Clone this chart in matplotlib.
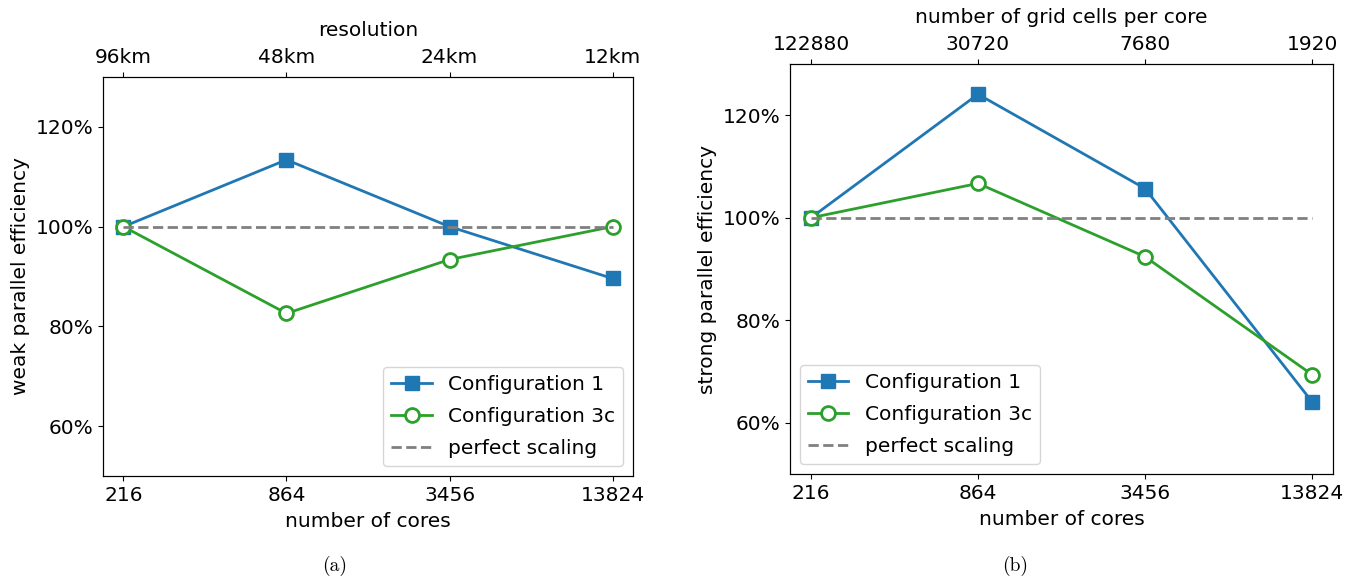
import matplotlib
matplotlib.use("Agg")
from matplotlib import pyplot as plt
from matplotlib.ticker import FuncFormatter, NullLocator

cores = [216, 864, 3456, 13824]
resolution = ["96km", "48km", "24km", "12km"]
cells_per_core = ["122880", "30720", "7680", "1920"]

weak_conf1 = [100.0, 113.4, 100.0, 89.6]
weak_conf3c = [100.0, 82.6, 93.4, 100.0]
strong_conf1 = [100.0, 124.1, 105.7, 64.1]
strong_conf3c = [100.0, 106.7, 92.4, 69.4]
perfect = [100.0, 100.0, 100.0, 100.0]

plt.rcParams['font.size'] = 14.5

fig = plt.figure(figsize=(13.58, 5.85), dpi=100)
ax1 = fig.add_axes([103/1358, 1-476/585, 530/1358, 399/585])
ax2 = fig.add_axes([790/1358, 1-474/585, 543/1358, 410/585])

def draw(ax, c1, c3, ylabel, toplabels, toptitle):
    ax.plot(cores, c1, marker='s', color='#1f77b4', lw=2, ms=10, label='Configuration 1')
    ax.plot(cores, c3, marker='o', color='#2ca02c', lw=2, ms=10, mfc='white', mew=2,
            label='Configuration 3c')
    ax.plot(cores, perfect, ls='--', color='gray', lw=2, label='perfect scaling')
    ax.set_xscale('log')
    ax.set_xlim(216 / 1.19, 13824 * 1.19)
    ax.set_ylim(50, 130)
    ax.set_xticks(cores)
    ax.set_xticklabels([str(c) for c in cores])
    ax.xaxis.set_minor_locator(NullLocator())
    ax.set_yticks([60, 80, 100, 120])
    ax.yaxis.set_major_formatter(FuncFormatter(lambda v, p: f"{v:.0f}%"))
    ax.set_xlabel('number of cores', labelpad=5)
    ax.set_ylabel(ylabel)
    top = ax.twiny()
    top.set_xscale('log')
    top.set_xlim(ax.get_xlim())
    top.set_xticks(cores)
    top.set_xticklabels(toplabels)
    top.xaxis.set_minor_locator(NullLocator())
    top.set_xlabel(toptitle, labelpad=9)
    return ax

draw(ax1, weak_conf1, weak_conf3c, 'weak parallel efficiency', resolution, 'resolution')
ax1.legend(loc='lower right', labelspacing=0.65)
draw(ax2, strong_conf1, strong_conf3c, 'strong parallel efficiency', cells_per_core,
     'number of grid cells per core')
ax2.legend(loc='lower left', labelspacing=0.65)

fig.text(335/1358, 1-566/585, '(a)', family='cmr10', fontsize=14, ha='center', va='center')
fig.text(1015/1358, 1-566/585, '(b)', family='cmr10', fontsize=14, ha='center', va='center')

fig.savefig('out.png', dpi=100)
